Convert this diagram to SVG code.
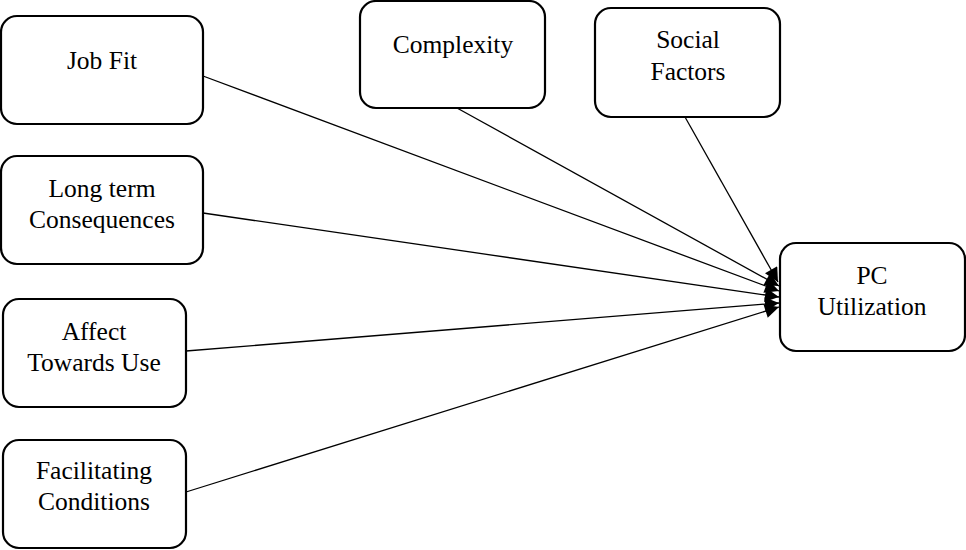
<svg xmlns="http://www.w3.org/2000/svg" width="966" height="550" viewBox="0 0 966 550">
<defs>
<style>
.box{fill:#fff;stroke:#000;stroke-width:2.2}
.t{font-family:"Liberation Serif","Times New Roman",serif;font-size:25.5px;fill:#000;text-anchor:middle}
.c{stroke:#000;stroke-width:1.3;fill:none}
</style>
<marker id="ah" viewBox="0 0 10 10" refX="10" refY="5" markerWidth="15" markerHeight="14" markerUnits="userSpaceOnUse" orient="auto">
<path d="M0,0 L10,5 L0,10 z" fill="#000"/>
</marker>
</defs>
<g id="connectors">
<line class="c" x1="203" y1="76" x2="779" y2="291" marker-end="url(#ah)"/>
<line class="c" x1="203" y1="213" x2="779" y2="297" marker-end="url(#ah)"/>
<line class="c" x1="186" y1="351" x2="779" y2="303" marker-end="url(#ah)"/>
<line class="c" x1="186" y1="492" x2="779" y2="307" marker-end="url(#ah)"/>
<line class="c" x1="457" y1="108" x2="779" y2="286" marker-end="url(#ah)"/>
<line class="c" x1="685" y1="117" x2="778" y2="282" marker-end="url(#ah)"/>
</g>
<g id="job-fit">
<rect class="box" x="1" y="16" width="202" height="108" rx="16"/>
<text class="t" x="102" y="69">Job Fit</text>
</g>
<g id="long-term">
<rect class="box" x="1" y="156" width="202" height="108" rx="16"/>
<text class="t" x="102" y="197">Long term</text>
<text class="t" x="102" y="228">Consequences</text>
</g>
<g id="affect">
<rect class="box" x="3" y="299" width="183" height="108" rx="16"/>
<text class="t" x="94" y="340">Affect</text>
<text class="t" x="94" y="371">Towards Use</text>
</g>
<g id="facilitating">
<rect class="box" x="3" y="440" width="183" height="108" rx="16"/>
<text class="t" x="94" y="479">Facilitating</text>
<text class="t" x="94" y="510">Conditions</text>
</g>
<g id="complexity">
<rect class="box" x="360" y="1" width="185" height="107" rx="16"/>
<text class="t" x="453" y="53">Complexity</text>
</g>
<g id="social">
<rect class="box" x="595" y="8" width="185" height="109" rx="16"/>
<text class="t" x="688" y="48">Social</text>
<text class="t" x="688" y="80">Factors</text>
</g>
<g id="pc-utilization">
<rect class="box" x="780" y="243" width="185" height="108" rx="16"/>
<text class="t" x="872" y="284">PC</text>
<text class="t" x="872" y="315">Utilization</text>
</g>
</svg>
